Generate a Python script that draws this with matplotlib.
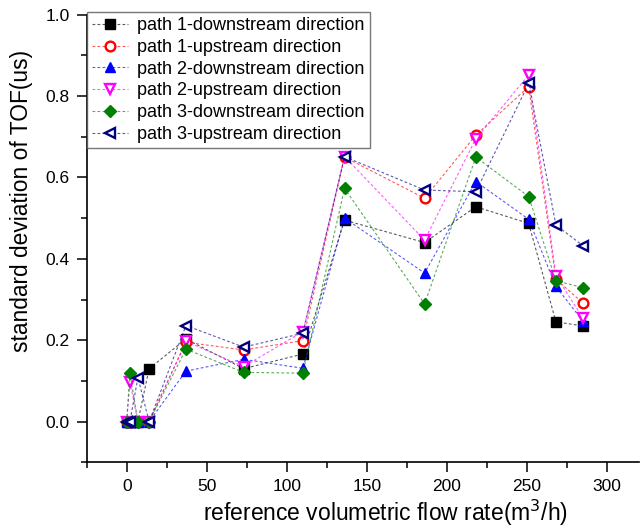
import matplotlib
matplotlib.use("Agg")
import matplotlib.pyplot as plt
from matplotlib.colors import to_rgba
from matplotlib.ticker import MultipleLocator

plt.rcParams["font.family"] = ["Liberation Sans", "DejaVu Sans"]

# flow rate (m3/h)
flow = [0, 2, 7, 14, 37, 73, 110, 136, 186, 218, 251, 268, 285]

p1_down = [0, 0, 0, 0.13, 0.203, 0.13, 0.166, 0.495, 0.44, 0.528, 0.487, 0.245, 0.235]
p1_up = [0, 0, 0, 0, 0.195, 0.176, 0.199, 0.65, 0.549, 0.704, 0.823, 0.35, 0.291]
p2_down = [0, 0, 0, 0, 0.124, 0.153, 0.131, 0.50, 0.365, 0.59, 0.497, 0.332, 0.246]
p2_up = [0, 0.098, 0, 0, 0.197, 0.135, 0.221, 0.651, 0.446, 0.695, 0.852, 0.358, 0.254]
p3_down = [0, 0.119, 0, 0, 0.178, 0.121, 0.119, 0.573, 0.289, 0.65, 0.553, 0.346, 0.329]
p3_up = [0, 0, 0.108, 0, 0.236, 0.183, 0.217, 0.651, 0.569, 0.565, 0.831, 0.483, 0.432]

labels = [
    "path 1-downstream direction",
    "path 1-upstream direction",
    "path 2-downstream direction",
    "path 2-upstream direction",
    "path 3-downstream direction",
    "path 3-upstream direction",
]

# (colour, marker, filled)
styles = [
    ("black", "s", True),
    ("red", "o", False),
    ("blue", "^", True),
    ("magenta", "v", False),
    ("#008000", "D", True),
    ("#000080", "<", False),
]

fig = plt.figure(figsize=(6.41, 5.28), dpi=100)
ax = fig.add_axes([0.1352, 0.1245, 0.862, 0.8477])

for ys, lab, (col, mk, filled) in zip(
        [p1_down, p1_up, p2_down, p2_up, p3_down, p3_up], labels, styles):
    ms = 6.0 if mk == "D" else 7.0
    # dashed connector is paler than the marker, as in Origin exports
    ax.plot(flow, ys, color=to_rgba(col, 0.65), lw=0.8, dashes=(2.5, 2.0),
            marker=mk, markersize=ms,
            markerfacecolor=col if filled else "white",
            markeredgecolor=col, markeredgewidth=1.0 if filled else 1.7,
            label=lab)

ax.set_xlim(-25, 320)
ax.set_ylim(-0.1, 1.0)
ax.xaxis.set_major_locator(MultipleLocator(50))
ax.xaxis.set_minor_locator(MultipleLocator(25))
ax.yaxis.set_minor_locator(MultipleLocator(0.1))
ax.set_yticks([0.0, 0.2, 0.4, 0.6, 0.8, 1.0])
ax.set_yticklabels(["0.0", "0.2", "0.4", "0.6", "0.8", "1.0"])

for side in ("top", "right"):
    ax.spines[side].set_visible(False)
for side in ("left", "bottom"):
    ax.spines[side].set_linewidth(1.2)

ax.tick_params(which="major", direction="out", length=7, width=1.1,
               labelsize=12.5, pad=5)
ax.tick_params(which="minor", direction="out", length=4, width=1.1)

ax.set_xlabel("reference volumetric flow rate(m$^3$/h)", fontsize=16.5)
ax.xaxis.set_label_coords(0.54, -0.079)
ax.set_ylabel("standard deviation of TOF(us)", fontsize=16.4)
ax.yaxis.set_label_coords(-0.097, 0.583)

leg = ax.legend(loc="upper left", bbox_to_anchor=(0, 1.006), borderaxespad=0,
                fontsize=13, frameon=True, fancybox=False, handlelength=2.0,
                handletextpad=0.5, labelspacing=0.26, borderpad=0.3)
leg.get_frame().set_edgecolor("#555555")
leg.get_frame().set_linewidth(1.0)

fig.savefig("out.png", dpi=100)
